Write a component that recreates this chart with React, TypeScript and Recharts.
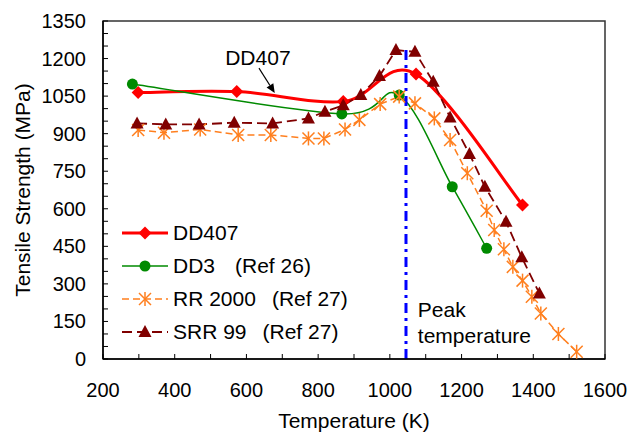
import {
  Legend,
  Line,
  LineChart,
  ReferenceArea,
  ReferenceDot,
  ReferenceLine,
  XAxis,
  YAxis,
} from "recharts";

const FONT = '"Liberation Sans", Arial, Helvetica, sans-serif';

// axis ticks (minor) and the ones that carry a label
const xTicks = [200, 300, 400, 500, 600, 700, 800, 900, 1000, 1100, 1200, 1300, 1400, 1500, 1600];
const xTickLabels = [200, 400, 600, 800, 1000, 1200, 1400, 1600];
const yTicks = [
  0, 50, 100, 150, 200, 250, 300, 350, 400, 450, 500, 550, 600, 650, 700, 750, 800, 850, 900, 950,
  1000, 1050, 1100, 1150, 1200, 1250, 1300, 1350,
];
const yTickLabels = [0, 150, 300, 450, 600, 750, 900, 1050, 1200, 1350];

// series, temperature (K) / tensile strength (MPa)
const dd407Temp = [298, 573, 870, 1073, 1370];
const dd407Strength = [1064, 1068, 1028, 1138, 615];

const dd3Temp = [282, 866, 1026, 1174, 1270];
const dd3Strength = [1098, 979, 1054, 688, 442];

const rr2000Temp = [
  298, 370, 471, 577, 668, 773, 816, 875, 915, 973, 1026, 1070, 1124, 1168, 1216, 1270, 1291, 1318,
  1343, 1370, 1396, 1421, 1470, 1521,
];
const rr2000Strength = [
  915, 904, 917, 895, 895, 881, 881, 917, 955, 1018, 1048, 1021, 961, 875, 742, 592, 515, 438, 368,
  313, 249, 182, 100, 29,
];

const srr99Temp = [
  295, 375, 468, 566, 673, 773, 819, 870, 919, 971, 1017, 1070, 1121, 1168, 1222, 1265, 1324, 1368, 1417,
];
const srr99Strength = [
  941, 937, 937, 944, 941, 961, 988, 1013, 1054, 1130, 1234, 1227, 1107, 965, 819, 688, 548, 406, 262,
];

const peakTemp = [1045, 1045];
const peakStrength = [0, 1245];

const zip = (t: number[], v: number[]) => t.map((T, i) => ({ T, v: v[i] }));

// Excel-like smoothed line (Catmull-Rom through the points)
function smooth(context: any) {
  let pts: number[][] = [];
  return {
    areaStart() {},
    areaEnd() {},
    lineStart() {
      pts = [];
    },
    point(x: number, y: number) {
      pts.push([+x, +y]);
    },
    lineEnd() {
      if (!pts.length) return;
      context.moveTo(pts[0][0], pts[0][1]);
      for (let i = 0; i < pts.length - 1; i++) {
        const p0 = pts[i - 1] || pts[i];
        const p1 = pts[i];
        const p2 = pts[i + 1];
        const p3 = pts[i + 2] || p2;
        const k = 1 / 6;
        context.bezierCurveTo(
          p1[0] + (p2[0] - p0[0]) * k,
          p1[1] + (p2[1] - p0[1]) * k,
          p2[0] - (p3[0] - p1[0]) * k,
          p2[1] - (p3[1] - p1[1]) * k,
          p2[0],
          p2[1],
        );
      }
    },
  };
}

type MarkerKind = "diamond" | "circle" | "star" | "triangle";

function Marker({ kind, cx, cy, color }: { kind: MarkerKind; cx: number; cy: number; color: string }) {
  if (kind === "diamond") {
    const s = 6.5;
    return <polygon points={`${cx},${cy - s} ${cx + s},${cy} ${cx},${cy + s} ${cx - s},${cy}`} fill={color} />;
  }
  if (kind === "circle") return <circle cx={cx} cy={cy} r={5.5} fill={color} />;
  if (kind === "triangle")
    return <polygon points={`${cx},${cy - 7} ${cx + 6.5},${cy + 5} ${cx - 6.5},${cy + 5}`} fill={color} />;
  const s = 6;
  return (
    <g stroke={color} strokeWidth={1.5}>
      <line x1={cx - s} y1={cy - s} x2={cx + s} y2={cy + s} />
      <line x1={cx - s} y1={cy + s} x2={cx + s} y2={cy - s} />
      <line x1={cx} y1={cy - s - 1} x2={cx} y2={cy + s + 1} />
    </g>
  );
}

const series = [
  { key: "dd407", name: "DD407", ref: "", gap: 0, data: zip(dd407Temp, dd407Strength), color: "#ff0000", width: 3, dash: undefined, kind: "diamond" as MarkerKind, curve: smooth },
  { key: "dd3", name: "DD3", ref: "(Ref 26)", gap: 20, data: zip(dd3Temp, dd3Strength), color: "#008a00", width: 1.5, dash: undefined, kind: "circle" as MarkerKind, curve: smooth },
  { key: "rr2000", name: "RR 2000", ref: "(Ref 27)", gap: 16, data: zip(rr2000Temp, rr2000Strength), color: "#ff7f1e", width: 1.5, dash: "7 4", kind: "star" as MarkerKind, curve: "linear" },
  { key: "srr99", name: "SRR 99", ref: "(Ref 27)", gap: 16, data: zip(srr99Temp, srr99Strength), color: "#800000", width: 1.8, dash: "10 5", kind: "triangle" as MarkerKind, curve: "linear" },
];

const XTick = ({ x, y, payload }: any) => (
  <g>
    <line x1={x} x2={x} y1={y} y2={y - 5} stroke="#000" />
    {xTickLabels.includes(payload.value) && (
      <text x={x} y={y + 38} textAnchor="middle" fontSize={20} fontFamily={FONT} fill="#000">
        {payload.value}
      </text>
    )}
  </g>
);

const YTick = ({ x, y, payload }: any) => (
  <g>
    <line x1={x} x2={x + 5} y1={y} y2={y} stroke="#000" />
    {yTickLabels.includes(payload.value) && (
      <text x={x - 17} y={y + 7} textAnchor="end" fontSize={20} fontFamily={FONT} fill="#000">
        {payload.value}
      </text>
    )}
  </g>
);

const Arrow = ({ x1, y1, x2, y2 }: any) => {
  const a = Math.atan2(y2 - y1, x2 - x1);
  const L = 9;
  const W = 4;
  const bx = x2 - L * Math.cos(a);
  const by = y2 - L * Math.sin(a);
  const nx = -Math.sin(a) * W;
  const ny = Math.cos(a) * W;
  return (
    <g>
      <line x1={x1} y1={y1} x2={bx} y2={by} stroke="#000" strokeWidth={1.2} />
      <polygon points={`${x2},${y2} ${bx + nx},${by + ny} ${bx - nx},${by - ny}`} fill="#000" />
    </g>
  );
};

function LegendBox() {
  return (
    <div style={{ fontFamily: FONT, fontSize: 21, color: "#000" }}>
      {series.map((s) => (
        <div key={s.key} style={{ display: "flex", alignItems: "center", height: 33, whiteSpace: "nowrap" }}>
          <svg width={46} height={20} style={{ marginRight: 5 }}>
            <line x1={0} x2={46} y1={10} y2={10} stroke={s.color} strokeWidth={s.width} strokeDasharray={s.dash} />
            <Marker kind={s.kind} cx={23} cy={10} color={s.color} />
          </svg>
          <span>{s.name}</span>
          {s.ref && <span style={{ marginLeft: s.gap }}>{s.ref}</span>}
        </div>
      ))}
    </div>
  );
}

export default function App() {
  return (
    <div style={{ position: "absolute", left: 0, top: 0, background: "#fff" }}>
      <LineChart width={631} height={433} margin={{ top: 21, right: 26, bottom: 0, left: 0 }}>
        <ReferenceArea x1={200} x2={1600} y1={0} y2={1350} fill="none" stroke="#333" strokeWidth={1.5} ifOverflow="visible" />
        <XAxis
          type="number"
          dataKey="T"
          domain={[200, 1600]}
          ticks={xTicks}
          interval={0}
          tick={XTick}
          tickLine={false}
          tickSize={0}
          tickMargin={0}
          height={74}
          axisLine={{ stroke: "#000", strokeWidth: 1.5 }}
          allowDataOverflow
          label={{ value: "Temperature (K)", position: "insideBottom", offset: 5, fontSize: 21, fill: "#000", fontFamily: FONT }}
        />
        <YAxis
          type="number"
          domain={[0, 1350]}
          ticks={yTicks}
          interval={0}
          tick={YTick}
          tickLine={false}
          tickSize={0}
          tickMargin={0}
          width={103}
          axisLine={{ stroke: "#000", strokeWidth: 1.5 }}
          allowDataOverflow
          label={({ viewBox }: any) => (
            <text
              transform={`translate(${viewBox.x + 22}, ${viewBox.y + viewBox.height / 2}) rotate(-90)`}
              textAnchor="middle"
              dominantBaseline="central"
              fontSize={21}
              fontFamily={FONT}
              fill="#000"
            >
              Tensile Strength (MPa)
            </text>
          )}
        />
        {series.map((s) => (
          <Line
            key={s.key}
            data={s.data}
            dataKey="v"
            name={s.name}
            type={s.curve as any}
            stroke={s.color}
            strokeWidth={s.width}
            strokeDasharray={s.dash}
            dot={(p: any) => <Marker key={`${s.key}-${p.index}`} kind={s.kind} cx={p.cx} cy={p.cy} color={s.color} />}
            activeDot={false}
            isAnimationActive={false}
          />
        ))}
        <Line
          data={zip(peakTemp, peakStrength)}
          dataKey="v"
          type="linear"
          stroke="#0000ff"
          strokeWidth={3}
          strokeDasharray="10 5 3 5"
          dot={false}
          activeDot={false}
          legendType="none"
          isAnimationActive={false}
        />
        <ReferenceLine segment={[{ x: 635, y: 1162 }, { x: 679, y: 1062 }]} shape={Arrow} ifOverflow="visible" />
        <ReferenceDot
          x={632}
          y={1174}
          r={0}
          shape={({ cx, cy }: any) => (
            <text x={cx} y={cy} textAnchor="middle" fontSize={21} fontFamily={FONT} fill="#000">
              DD407
            </text>
          )}
        />
        <ReferenceDot
          x={1078}
          y={169}
          r={0}
          shape={({ cx, cy }: any) => (
            <text x={cx} y={cy} fontSize={21} fontFamily={FONT} fill="#000">
              <tspan x={cx}>Peak</tspan>
              <tspan x={cx} dy={26}>temperature</tspan>
            </text>
          )}
        />
        <Legend
          layout="vertical"
          align="center"
          verticalAlign="middle"
          wrapperStyle={{ left: 122, top: 216, width: 320 }}
          content={() => <LegendBox />}
        />
      </LineChart>
    </div>
  );
}
